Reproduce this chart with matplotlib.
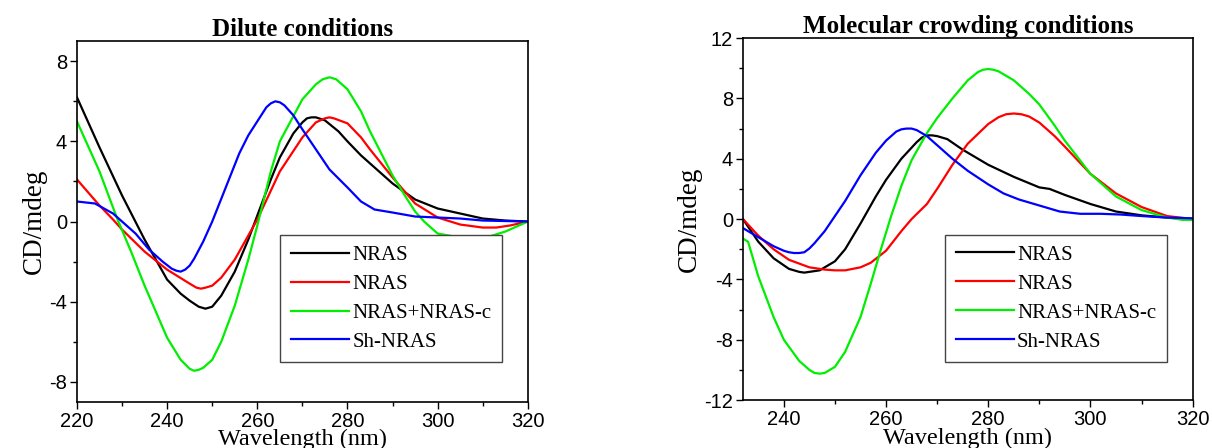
import matplotlib

matplotlib.use("Agg")
import matplotlib.pyplot as plt  # noqa: E402
from matplotlib.ticker import MultipleLocator  # noqa: E402

plt.rcParams["axes.unicode_minus"] = False

SERIF = "Liberation Serif"
SANS = "Liberation Sans"

LABELS = ["NRAS", "NRAS", "NRAS+NRAS-c", "Sh-NRAS"]
COLORS = ["#000000", "#ff0000", "#00ee00", "#0000ff"]

# Dilute conditions: (wavelength nm, CD mdeg)
dil_black_x = [220, 225, 230, 235, 240, 243, 245, 247, 248.5, 250, 252, 255, 258, 260, 263, 265, 268, 270,
               271, 272, 273, 275, 278, 280, 283, 285, 288, 290, 295, 300, 305, 310, 315, 320]
dil_black_y = [6.2, 3.7, 1.3, -0.9, -2.9, -3.6, -3.95, -4.25, -4.35, -4.25, -3.7, -2.5, -0.9, 0.3, 2.1, 3.2,
               4.4, 4.95, 5.15, 5.2, 5.2, 5.05, 4.5, 4.0, 3.3, 2.9, 2.3, 1.9, 1.1, 0.65, 0.4, 0.15, 0.05, 0.0]

dil_red_x = [220, 225, 228, 230, 235, 240, 245, 246.5, 247.5, 248.5, 250, 252, 255, 258, 260, 265, 270, 273,
             275, 276, 277, 280, 283, 285, 290, 295, 300, 305, 310, 313, 316, 320]
dil_red_y = [2.1, 0.8, 0.1, -0.4, -1.5, -2.4, -3.1, -3.3, -3.35, -3.3, -3.2, -2.8, -1.9, -0.7, 0.1, 2.5, 4.2,
             4.95, 5.15, 5.2, 5.15, 4.9, 4.2, 3.6, 2.2, 0.9, 0.2, -0.15, -0.3, -0.3, -0.2, 0.0]

dil_green_x = [220, 225, 229, 232, 235, 240, 243, 245, 246, 247, 248, 250, 252, 255, 258, 260, 263, 265,
               270, 273, 274.5, 276, 277.5, 279, 280, 283, 285, 290, 293, 295, 297, 300, 305, 310, 315, 320]
dil_green_y = [5.0, 2.5, 0.1, -1.5, -3.2, -5.8, -6.9, -7.35, -7.45, -7.4, -7.3, -6.9, -6.0, -4.2, -1.9, -0.2,
               2.5, 4.0, 6.1, 6.85, 7.1, 7.2, 7.1, 6.8, 6.6, 5.5, 4.5, 2.3, 1.2, 0.5, 0.0, -0.6, -0.8, -0.85,
               -0.5, 0.0]

dil_blue_x = [220, 224, 228, 230, 233, 236, 239, 241, 242, 243, 244, 245, 246, 248, 250, 253, 256, 258,
              260, 262, 263, 264, 265, 266, 268, 270, 273, 276, 280, 283, 286, 290, 295, 300, 305, 310, 320]
dil_blue_y = [1.0, 0.9, 0.4, 0.0, -0.6, -1.4, -2.0, -2.35, -2.45, -2.5, -2.4, -2.2, -1.85, -1.0, 0.0, 1.7,
              3.4, 4.3, 5.0, 5.7, 5.9, 6.0, 5.95, 5.8, 5.3, 4.6, 3.6, 2.6, 1.7, 1.0, 0.6, 0.45, 0.25, 0.2,
              0.15, 0.05, 0.0]

# Molecular crowding conditions
mc_black_x = [232, 235, 238, 241, 243, 244, 245, 247, 250, 252, 255, 258, 260, 263, 266, 267, 268, 269,
              270, 272, 275, 278, 280, 285, 290, 292, 295, 300, 305, 310, 315, 320]
mc_black_y = [0.0, -1.5, -2.6, -3.3, -3.5, -3.55, -3.5, -3.4, -2.8, -2.0, -0.3, 1.5, 2.6, 4.0, 5.1, 5.4,
              5.55, 5.55, 5.5, 5.3, 4.6, 4.0, 3.6, 2.8, 2.1, 2.0, 1.6, 1.0, 0.5, 0.25, 0.1, 0.0]

mc_red_x = [232, 235, 238, 241, 245, 248, 250, 252, 255, 257, 260, 263, 265, 268, 270, 273, 276, 280, 282,
            283.5, 285, 286.5, 288, 290, 293, 295, 300, 305, 310, 315, 320]
mc_red_y = [0.0, -1.1, -2.0, -2.7, -3.2, -3.35, -3.4, -3.4, -3.2, -2.9, -2.1, -0.8, 0.0, 1.0, 2.0, 3.6, 5.0,
            6.3, 6.75, 6.95, 7.0, 6.95, 6.8, 6.4, 5.5, 4.8, 3.0, 1.7, 0.8, 0.2, 0.0]

mc_green_x = [232, 233, 235, 238, 240, 243, 245, 246, 247, 248, 250, 252, 255, 257, 259, 261, 263, 265,
              268, 270, 273, 276, 278, 279, 280, 281, 282, 285, 288, 290, 293, 295, 300, 305, 310, 315, 318,
              320]
mc_green_y = [-1.3, -1.5, -3.8, -6.5, -8.0, -9.4, -10.0, -10.2, -10.25, -10.2, -9.8, -8.8, -6.5, -4.3, -2.0,
              0.2, 2.2, 3.9, 5.7, 6.7, 8.0, 9.2, 9.75, 9.9, 9.95, 9.9, 9.8, 9.2, 8.3, 7.6, 6.2, 5.2, 3.0, 1.5,
              0.6, 0.1, -0.05, -0.05]

mc_blue_x = [232, 235, 238, 240, 241, 242, 243, 244, 245, 246, 248, 250, 252, 255, 258, 260, 262, 263, 264,
             265, 266, 268, 270, 273, 276, 280, 283, 286, 290, 294, 298, 302, 306, 310, 315, 320]
mc_blue_y = [-0.6, -1.2, -1.8, -2.1, -2.2, -2.25, -2.25, -2.2, -1.95, -1.6, -0.8, 0.2, 1.2, 2.9, 4.4, 5.2,
             5.8, 5.95, 6.0, 6.0, 5.9, 5.5, 4.9, 4.0, 3.2, 2.3, 1.7, 1.3, 0.9, 0.5, 0.35, 0.35, 0.3, 0.2,
             0.1, 0.05]

dilute = [(dil_black_x, dil_black_y), (dil_red_x, dil_red_y),
          (dil_green_x, dil_green_y), (dil_blue_x, dil_blue_y)]
crowding = [(mc_black_x, mc_black_y), (mc_red_x, mc_red_y),
            (mc_green_x, mc_green_y), (mc_blue_x, mc_blue_y)]


def draw_panel(ax, series, title, xlim, ylim, xticks, yticks, leg_anchor):
    for (x, y), c, lab in zip(series, COLORS, LABELS):
        ax.plot(x, y, color=c, linewidth=1.6, label=lab, solid_joinstyle="round")
    ax.set_xlim(*xlim)
    ax.set_ylim(*ylim)
    ax.set_xticks(xticks)
    ax.set_yticks(yticks)
    ax.xaxis.set_minor_locator(MultipleLocator(10))
    ax.yaxis.set_minor_locator(MultipleLocator(2))
    ax.tick_params(which="both", direction="out", top=False, right=False)
    ax.tick_params(which="major", length=5, width=1, labelsize=14.5, pad=2)
    ax.tick_params(which="minor", length=3, width=1)
    for lab in ax.get_xticklabels() + ax.get_yticklabels():
        lab.set_fontfamily(SANS)
    for sp in ax.spines.values():
        sp.set_linewidth(1.2)
    ax.set_title(title, fontfamily=SERIF, fontweight="bold", fontsize=18, pad=4)
    ax.set_xlabel("Wavelength (nm)", fontfamily=SERIF, fontsize=17.5, labelpad=-1)
    ax.set_ylabel("CD/mdeg", fontfamily=SERIF, fontsize=19.5, labelpad=2)
    leg = ax.legend(loc="lower right", bbox_to_anchor=leg_anchor, frameon=True, fancybox=False,
                    edgecolor="#444444", framealpha=1, handlelength=2.8, handletextpad=0.15,
                    labelspacing=0.45, borderpad=0.5, borderaxespad=0,
                    prop={"family": SERIF, "size": 15})
    leg.get_frame().set_linewidth(1.0)


fig = plt.figure(figsize=(12.12, 4.48), dpi=100)
ax1 = fig.add_axes([0.0635, 0.103, 0.372, 0.805])
ax2 = fig.add_axes([0.613, 0.107, 0.371, 0.808])

draw_panel(ax1, dilute, "Dilute conditions", (220, 320), (-9, 9),
           [220, 240, 260, 280, 300, 320], [-8, -4, 0, 4, 8], (0.942, 0.11))
draw_panel(ax2, crowding, "Molecular crowding conditions", (232, 320), (-12, 12),
           [240, 260, 280, 300, 320], [-12, -8, -4, 0, 4, 8, 12], (0.942, 0.105))

fig.savefig("out.png", dpi=100)
